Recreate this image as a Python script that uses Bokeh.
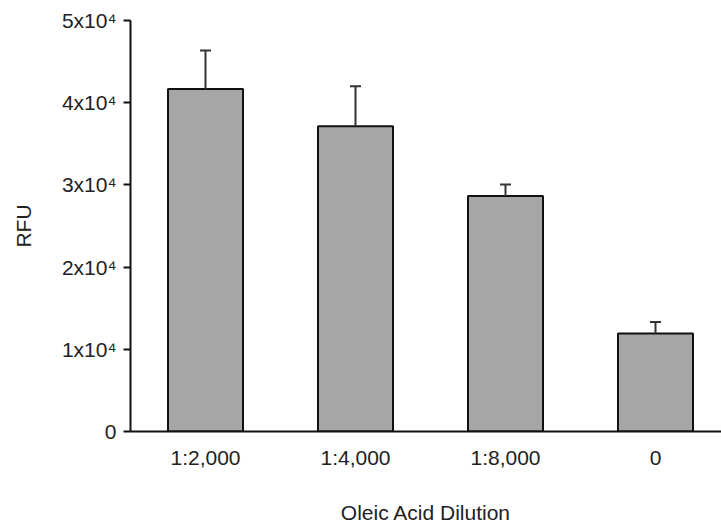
from bokeh.plotting import figure
from bokeh.models import ColumnDataSource, Range1d, FixedTicker, Whisker, TeeHead
from bokeh.embed import file_html
from bokeh.resources import INLINE

# Data
categories = ["1:2,000", "1:4,000", "1:8,000", "0"]
rfu = [41660, 37140, 28640, 11930]
rfu_err = [4700, 4850, 1420, 1380]
y_ticks = [0, 10000, 20000, 30000, 40000, 50000]
y_tick_labels = ["0", "1x10\u2074", "2x10\u2074", "3x10\u2074", "4x10\u2074", "5x10\u2074"]

FONT = "Liberation Sans"
TXT = "#222222"

W, H = 721, 526
LEFT, TOP, BOTTOM = 130, 20, 94

xs = list(range(len(categories)))
src = ColumnDataSource(dict(
    x=xs, top=rfu, upper=[v + e for v, e in zip(rfu, rfu_err)],
))

p = figure(width=W, height=H, output_backend="svg", toolbar_location=None,
           x_range=Range1d(-0.5, -0.5 + (W - LEFT) / 150), y_range=Range1d(0, 50000),
           min_border_left=LEFT, min_border_right=0, min_border_top=TOP, min_border_bottom=BOTTOM)
p.outline_line_color = None
p.grid.visible = False
p.background_fill_color = "white"

p.vbar(x="x", top="top", bottom=0, width=0.5, source=src,
       fill_color="#a6a6a6", line_color="#111111", line_width=2)

w = Whisker(base="x", upper="upper", lower="top", source=src, dimension="height",
            line_color="#333333", line_width=2, lower_head=None,
            upper_head=TeeHead(size=11, line_color="#333333", line_width=2),
            level="overlay")
p.add_layout(w)

# x axis
xa = p.xaxis[0]
xa.ticker = FixedTicker(ticks=xs)
xa.major_label_overrides = {i: c for i, c in zip(xs, categories)}
xa.major_tick_line_color = None
xa.major_tick_out = 0
xa.minor_tick_line_color = None
xa.axis_line_width = 2
xa.axis_line_color = "#111111"
xa.major_label_text_font = FONT
xa.major_label_text_font_size = "21px"
xa.major_label_text_color = TXT
xa.major_label_standoff = 14
xa.axis_label = "Oleic Acid Dilution"
xa.axis_label_text_font = FONT
xa.axis_label_text_font_size = "21px"
xa.axis_label_text_font_style = "normal"
xa.axis_label_text_color = TXT
xa.axis_label_standoff = 29

# y axis
ya = p.yaxis[0]
ya.ticker = FixedTicker(ticks=y_ticks)
ya.major_label_overrides = {t: l for t, l in zip(y_ticks, y_tick_labels)}
ya.major_tick_out = 7
ya.major_tick_in = 0
ya.major_tick_line_width = 2
ya.major_tick_line_color = "#111111"
ya.minor_tick_line_color = None
ya.axis_line_width = 2
ya.axis_line_color = "#111111"
ya.major_label_text_font = FONT
ya.major_label_text_font_size = "21px"
ya.major_label_text_color = TXT
ya.major_label_standoff = 7
ya.axis_label = "RFU"
ya.axis_label_text_font = FONT
ya.axis_label_text_font_size = "21px"
ya.axis_label_text_font_style = "normal"
ya.axis_label_text_color = TXT
ya.axis_label_standoff = 24

open("out.html", "w").write(file_html(p, INLINE))
